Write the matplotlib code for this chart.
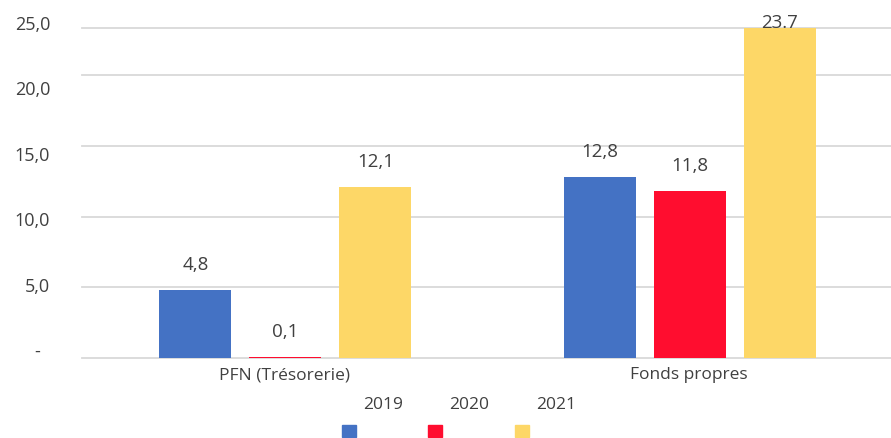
import matplotlib
matplotlib.use("Agg")
import matplotlib.pyplot as plt
from matplotlib.patches import Rectangle
import numpy as np

categories = ["PFN (Trésorerie)", "Fonds propres"]
series = ["2019", "2020", "2021"]
values_2019 = [4.8, 12.8]
values_2020 = [0.1, 11.8]
values_2021 = [12.1, 23.7]
value_labels = [["4,8", "12,8"], ["0,1", "11,8"], ["12,1", "23.7"]]
ytick_values = [0, 5, 10, 15, 20, 25]
ytick_labels = ["-  ", "5,0", "10,0", "15,0", "20,0", "25,0"]
colors = ["#4472C4", "#FF0D2F", "#FDD767"]

plt.rcParams['font.family'] = ['Open Sans', 'DejaVu Sans']
text_color = "#404040"

W, H = 891, 439
fig = plt.figure(figsize=(W / 100, H / 100), dpi=100)

# plot area: x 82..891, y 29..359 (pixels from top)
left, right, top, bottom = 82, 891, 29, 359
ax = fig.add_axes([left / W, 1 - bottom / H, (right - left) / W, (bottom - top) / H])
ymax = (bottom - top) / 14.14
ax.set_ylim(0, ymax)
ax.set_xlim(-0.5, 1.5)

all_vals = [values_2019, values_2020, values_2021]
x = np.arange(len(categories))
step = 0.2225
width = 0.178
for i, vals in enumerate(all_vals):
    pos = x + (i - 1) * step + 0.003
    ax.bar(pos, vals, width=width, color=colors[i], zorder=3, linewidth=0)
    for j, (p, v) in enumerate(zip(pos, vals)):
        lab = value_labels[i][j]
        if v + 1.9 > ymax:
            ax.text(p, ymax + 0.45, lab, ha="center", va="center", fontsize=13.5,
                    color=text_color, zorder=2, clip_on=False)
        else:
            ax.annotate(lab, (p, v), xytext=(0, 26), textcoords="offset pixels",
                        ha="center", va="center", fontsize=13.5, color=text_color)

for g in [0, 5, 10, 15, 20, ymax]:
    ax.axhline(g, color="#D9D9D9", lw=1.3, zorder=0.5, clip_on=False)

for s in ax.spines.values():
    s.set_visible(False)
ax.set_yticks([])
ax.set_xticks(x)
ax.set_xticklabels(categories, fontsize=12.5, color=text_color)
ax.tick_params(axis="x", length=0, pad=6)

# y tick labels column
ax2 = fig.add_axes([0.0, 1 - 352 / H, left / W, (352 - 25) / H])
ax2.set_ylim(0, 25)
ax2.set_xlim(0, 1)
for s in ax2.spines.values():
    s.set_visible(False)
ax2.set_xticks([])
ax2.set_yticks([])
for v, lab in zip(ytick_values, ytick_labels):
    ax2.text(50 / left, v, lab, ha="right", va="center", fontsize=13, color=text_color)
ax2.patch.set_alpha(0)

# legend: label above-right of square
leg_x = [342, 428, 515]
for i, name in enumerate(series):
    sx = leg_x[i]
    fig.patches.append(Rectangle((sx / W, 1 - 438 / H), 14 / W, 12 / H,
                                 transform=fig.transFigure, color=colors[i]))
    fig.text((sx + 41) / W, 1 - 405 / H, name, ha="center", va="center",
             fontsize=12.5, color=text_color)

fig.savefig("out.png", dpi=100)
